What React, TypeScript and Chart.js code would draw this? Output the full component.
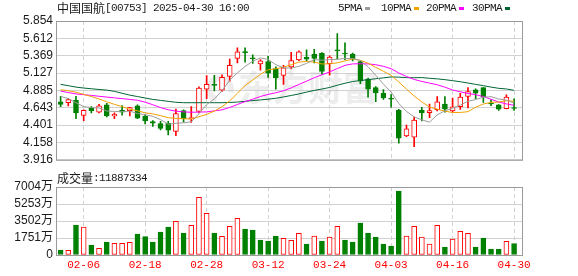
import React, { useEffect, useRef } from "react";
import { Chart, registerables } from "chart.js";

Chart.register(...registerables);

// ---------------- data ----------------
const dates = [
  "02-03", "02-04", "02-05", "02-06", "02-07", "02-10", "02-11", "02-12", "02-13", "02-14",
  "02-17", "02-18", "02-19", "02-20", "02-21", "02-24", "02-25", "02-26", "02-27", "02-28",
  "03-03", "03-04", "03-05", "03-06", "03-07", "03-10", "03-11", "03-12", "03-13", "03-14",
  "03-17", "03-18", "03-19", "03-20", "03-21", "03-24", "03-25", "03-26", "03-27", "03-28",
  "03-31", "04-01", "04-02", "04-03", "04-07", "04-08", "04-09", "04-10", "04-11", "04-14",
  "04-15", "04-16", "04-17", "04-22", "04-23", "04-24", "04-25", "04-28", "04-29", "04-30",
];

const openPrices = [
  4.726, 4.713, 4.748, 4.536, 4.637, 4.580, 4.682, 4.527, 4.606, 4.602,
  4.669, 4.527, 4.451, 4.421, 4.425, 4.314, 4.602, 4.490, 4.590, 4.902,
  4.969, 4.889, 5.080, 5.332, 5.425, 5.336, 5.253, 5.287, 5.190, 5.093,
  5.213, 5.310, 5.346, 5.389, 5.403, 5.257, 5.449, 5.407, 5.393, 5.287,
  5.044, 4.925, 4.845, 4.772, 4.606, 4.248, 4.231, 4.606, 4.573, 4.616,
  4.695, 4.600, 4.659, 4.801, 4.894, 4.925, 4.706, 4.682, 4.629, 4.642,
];
const highPrices = [
  4.801, 4.770, 4.801, 4.615, 4.659, 4.690, 4.703, 4.571, 4.673, 4.650,
  4.682, 4.536, 4.464, 4.454, 4.454, 4.624, 4.615, 4.659, 4.934, 5.093,
  5.097, 5.101, 5.323, 5.478, 5.478, 5.380, 5.314, 5.359, 5.213, 5.234,
  5.416, 5.438, 5.452, 5.460, 5.412, 5.367, 5.677, 5.548, 5.407, 5.300,
  5.058, 4.938, 4.898, 4.825, 4.620, 4.401, 4.513, 4.650, 4.695, 4.799,
  4.799, 4.779, 4.845, 4.925, 4.908, 4.925, 4.752, 4.686, 4.823, 4.766,
];
const lowPrices = [
  4.659, 4.669, 4.491, 4.461, 4.571, 4.571, 4.513, 4.491, 4.540, 4.527,
  4.491, 4.416, 4.381, 4.332, 4.265, 4.252, 4.443, 4.438, 4.570, 4.770,
  4.878, 4.872, 5.014, 5.270, 5.279, 5.261, 5.168, 5.067, 4.902, 4.969,
  5.186, 5.301, 5.296, 5.270, 5.111, 5.097, 5.323, 5.314, 5.296, 4.978,
  4.792, 4.726, 4.759, 4.650, 4.148, 4.239, 4.098, 4.460, 4.504, 4.599,
  4.580, 4.580, 4.620, 4.642, 4.770, 4.716, 4.673, 4.606, 4.626, 4.606,
];
const closePrices = [
  4.690, 4.756, 4.571, 4.606, 4.603, 4.669, 4.531, 4.553, 4.580, 4.646,
  4.496, 4.460, 4.427, 4.354, 4.328, 4.563, 4.491, 4.500, 4.916, 4.969,
  4.955, 5.067, 5.234, 5.425, 5.412, 5.327, 5.297, 5.124, 5.058, 5.200,
  5.300, 5.425, 5.320, 5.330, 5.151, 5.350, 5.436, 5.393, 5.323, 5.014,
  4.902, 4.849, 4.779, 4.762, 4.217, 4.350, 4.470, 4.571, 4.602, 4.726,
  4.624, 4.655, 4.792, 4.868, 4.845, 4.792, 4.695, 4.624, 4.792, 4.632,
];
const prevCloseBefore = 4.74;

// volume in 万 shares
const volumeWan = [
  515, 480, 3090, 2884, 1030, 690, 1339, 1202, 1202, 1305,
  2163, 1888, 1339, 2369, 2884, 3468, 2266, 3056, 5940, 4292,
  2266, 1922, 2953, 3777, 2678, 2575, 1545, 1442, 1957, 1717,
  1510, 2232, 1133, 1957, 1442, 1854, 2953, 1545, 1339, 3296,
  2266, 1854, 1133, 927, 6592, 1957, 2953, 1854, 1133, 3056,
  824, 1648, 2438, 2232, 824, 1751, 618, 618, 1408, 1188.7,
];

const ma5 = [
  4.801, 4.770, 4.713, 4.659, 4.645, 4.641, 4.596, 4.592, 4.587, 4.596,
  4.561, 4.547, 4.522, 4.477, 4.413, 4.426, 4.433, 4.447, 4.560, 4.688,
  4.766, 4.881, 5.028, 5.130, 5.219, 5.293, 5.339, 5.317, 5.244, 5.201,
  5.196, 5.221, 5.262, 5.316, 5.306, 5.316, 5.318, 5.331, 5.331, 5.303,
  5.214, 5.096, 4.973, 4.861, 4.702, 4.591, 4.516, 4.474, 4.442, 4.544,
  4.599, 4.636, 4.680, 4.733, 4.757, 4.790, 4.798, 4.765, 4.750, 4.707,
];
const ma10 = [
  4.894, 4.881, 4.860, 4.830, 4.800, 4.765, 4.726, 4.690, 4.659, 4.621,
  4.601, 4.572, 4.557, 4.532, 4.504, 4.494, 4.490, 4.485, 4.518, 4.550,
  4.596, 4.657, 4.738, 4.845, 4.953, 5.030, 5.110, 5.173, 5.187, 5.210,
  5.244, 5.280, 5.290, 5.280, 5.254, 5.256, 5.270, 5.297, 5.323, 5.305,
  5.265, 5.207, 5.152, 5.096, 5.003, 4.903, 4.806, 4.724, 4.652, 4.623,
  4.595, 4.576, 4.577, 4.588, 4.650, 4.695, 4.717, 4.722, 4.741, 4.732,
];
const ma20 = [
  4.875, 4.855, 4.836, 4.825, 4.815, 4.803, 4.792, 4.781, 4.770, 4.759,
  4.748, 4.720, 4.685, 4.645, 4.615, 4.595, 4.585, 4.580, 4.582, 4.585,
  4.599, 4.614, 4.647, 4.688, 4.729, 4.762, 4.800, 4.829, 4.852, 4.880,
  4.920, 4.969, 5.014, 5.062, 5.103, 5.143, 5.190, 5.235, 5.255, 5.257,
  5.255, 5.244, 5.221, 5.188, 5.128, 5.079, 5.038, 5.010, 4.987, 4.964,
  4.930, 4.891, 4.865, 4.842, 4.826, 4.799, 4.761, 4.723, 4.696, 4.677,
];
const ma30 = [
  4.969, 4.951, 4.931, 4.918, 4.908, 4.898, 4.889, 4.872, 4.845, 4.819,
  4.799, 4.779, 4.759, 4.746, 4.732, 4.719, 4.713, 4.713, 4.713, 4.713,
  4.713, 4.713, 4.717, 4.722, 4.732, 4.743, 4.752, 4.762, 4.775, 4.794,
  4.814, 4.836, 4.861, 4.885, 4.904, 4.926, 4.957, 4.985, 5.009, 5.022,
  5.035, 5.048, 5.060, 5.073, 5.070, 5.063, 5.062, 5.064, 5.054, 5.046,
  5.035, 5.021, 5.006, 4.988, 4.969, 4.951, 4.931, 4.914, 4.905, 4.886,
];

const priceTickLabels = ["3.916", "4.158", "4.401", "4.643", "4.885", "5.127", "5.369", "5.612", "5.854"];
const volumeTicks = [0, 1751, 3502, 5253, 7004];
const dateTickLabels = ["02-06", "02-18", "02-28", "03-12", "03-24", "04-03", "04-16", "04-30"];
const legendLabels = ["5PMA", "10PMA", "20PMA", "30PMA"];
const titleText = "中国国航[00753] 2025-04-30 16:00";
const volumeTitle = "成交量:11887334";
const watermarkText = "东方财富";

// ---------------- styles ----------------
const UP = "#ff0000";
const DOWN = "#008000";
const MA_COLORS = ["#9c9c9c", "#f2a100", "#ff00ff", "#006633"];
const GRID = "#d2d2d2";
const FRAME = "#9a9a9a";
const TEXT = "#1a1a1a";
const SANS = '"Liberation Sans", "Noto Sans CJK SC", sans-serif';
const X_MIN = -0.6;
const X_MAX = 60.03;
const LEGEND_X = [338, 381, 426, 472];

const isCJK = (ch: string) => /[\u3000-\u9fff\uff00-\uffef]/.test(ch);

function drawMixed(ctx: CanvasRenderingContext2D, text: string, x: number, y: number, color: string) {
  const runs: { t: string; c: boolean }[] = [];
  for (const ch of text) {
    const c = isCJK(ch);
    if (runs.length && runs[runs.length - 1].c === c) runs[runs.length - 1].t += ch;
    else runs.push({ t: ch, c });
  }
  ctx.save();
  ctx.fillStyle = color;
  ctx.textBaseline = "middle";
  ctx.textAlign = "left";
  let cx = x;
  for (const r of runs) {
    if (r.c) {
      ctx.font = '12px "Noto Sans CJK SC"';
      (ctx as any).letterSpacing = "0px";
    } else {
      ctx.font = '11px "Liberation Mono"';
      (ctx as any).letterSpacing = "-0.6px";
    }
    ctx.fillText(r.t, cx, y + (r.c ? 0 : 0.5));
    cx += ctx.measureText(r.t).width;
  }
  ctx.restore();
  return cx;
}

const framePlugin = {
  id: "frame",
  afterDraw(chart: any) {
    const { ctx, chartArea: a } = chart;
    ctx.save();
    ctx.strokeStyle = FRAME;
    ctx.lineWidth = 1;
    ctx.strokeRect(a.left + 0.5, a.top + 0.5, a.right - a.left, a.bottom - a.top);
    ctx.restore();
  },
};

export default function App() {
  const priceRef = useRef<HTMLCanvasElement>(null);
  const volRef = useRef<HTMLCanvasElement>(null);

  useEffect(() => {
    const idx = dates.map((_, i) => i);
    const xTicks = dateTickLabels.map((l) => dates.indexOf(l));
    const candleUp = idx.map((i) => closePrices[i] >= openPrices[i]);
    const volUp = idx.map((i) => closePrices[i] >= (i === 0 ? prevCloseBefore : closePrices[i - 1]));

    const xGridScale = (showLabels: boolean, height: number) => ({
      type: "linear" as const,
      min: X_MIN,
      max: X_MAX,
      offset: false,
      bounds: "data" as const,
      afterBuildTicks: (s: any) => {
        s.ticks = xTicks.map((v) => ({ value: v }));
      },
      afterFit: (s: any) => {
        s.height = height;
      },
      ticks: {
        display: showLabels,
        autoSkip: false,
        maxRotation: 0,
        minRotation: 0,
        padding: 3,
        color: UP,
        font: { family: '"Liberation Mono", monospace', size: 11 },
        callback: (v: any) => dates[Math.round(Number(v))] ?? "",
      },
      grid: { color: GRID, lineWidth: 1, drawTicks: false, offset: false },
      border: { display: false, dash: [4, 3] },
    });

    const sidePlugin = {
      id: "priceDecor",
      beforeDatasetsDraw(chart: any) {
        const { ctx } = chart;
        ctx.save();
        ctx.fillStyle = "rgba(195,195,200,0.3)";
        ctx.font = 'bold 35px "Noto Sans CJK SC"';
        ctx.textBaseline = "middle";
        ctx.textAlign = "left";
        ctx.fillText(watermarkText, 238, 88);
        ctx.strokeStyle = "rgba(195,195,200,0.3)";
        ctx.lineWidth = 6;
        ctx.beginPath();
        ctx.arc(220, 89, 11, Math.PI * 0.6, Math.PI * 2.1);
        ctx.stroke();
        ctx.restore();
      },
      afterDraw(chart: any) {
        const { ctx } = chart;
        drawMixed(ctx, titleText, 57, 8, TEXT);
        legendLabels.forEach((l, k) => {
          const end = drawMixed(ctx, l, LEGEND_X[k], 8, TEXT);
          ctx.save();
          ctx.fillStyle = MA_COLORS[k];
          ctx.fillRect(Math.round(end + 3), 7, 5, 3);
          ctx.restore();
        });
      },
    };

    const priceChart = new Chart(priceRef.current as HTMLCanvasElement, {
      type: "bar",
      data: {
        datasets: [
          ...[ma5, ma10, ma20, ma30].map((arr, k) => ({
            type: "line" as const,
            data: idx.map((i) => ({ x: i, y: arr[i] })),
            borderColor: MA_COLORS[k],
            borderWidth: 1,
            pointRadius: 0,
            fill: false,
            tension: 0,
            order: 0,
          })),
          {
            type: "bar" as const,
            data: idx.map((i) => ({ x: i, y: [openPrices[i], closePrices[i]] })),
            backgroundColor: idx.map((i) => (candleUp[i] ? "#ffffff" : DOWN)),
            borderColor: idx.map((i) => (candleUp[i] ? UP : DOWN)),
            borderWidth: 1,
            borderSkipped: false,
            barThickness: 5,
            maxBarThickness: 5,
            minBarLength: 1,
            grouped: false,
            order: 1,
          },
          {
            type: "bar" as const,
            data: idx.map((i) => ({ x: i, y: [lowPrices[i], highPrices[i]] })),
            backgroundColor: idx.map((i) => (candleUp[i] ? UP : DOWN)),
            borderWidth: 0,
            barThickness: 1,
            maxBarThickness: 1,
            grouped: false,
            order: 2,
          },
        ] as any,
      },
      options: {
        responsive: false,
        animation: false,
        devicePixelRatio: 1,
        events: [],
        layout: { padding: { left: 0, right: 56, top: 21, bottom: 5 } },
        plugins: { legend: { display: false }, tooltip: { enabled: false } },
        scales: {
          x: xGridScale(false, 0) as any,
          y: {
            min: 3.916,
            max: 5.854,
            afterBuildTicks: (s: any) => {
              s.ticks = priceTickLabels.map((t) => ({ value: parseFloat(t) }));
            },
            afterFit: (s: any) => {
              s.width = 56;
            },
            ticks: {
              autoSkip: false,
              padding: 3,
              color: TEXT,
              font: { family: SANS, size: 12 },
              callback: (v: any) => Number(v).toFixed(3),
            },
            grid: { color: GRID, lineWidth: 1, drawTicks: false },
            border: { display: false },
          },
        },
      },
      plugins: [sidePlugin, framePlugin],
    });

    const volPlugin = {
      id: "volDecor",
      afterDraw(chart: any) {
        drawMixed(chart.ctx, volumeTitle, 57, 8, TEXT);
      },
    };

    const volChart = new Chart(volRef.current as HTMLCanvasElement, {
      type: "bar",
      data: {
        datasets: [
          {
            data: idx.map((i) => ({ x: i, y: volumeWan[i] })),
            backgroundColor: idx.map((i) => (volUp[i] ? "#ffffff" : DOWN)),
            borderColor: idx.map((i) => (volUp[i] ? UP : DOWN)),
            borderWidth: 1,
            borderSkipped: false,
            barThickness: 5,
            maxBarThickness: 5,
            grouped: false,
          } as any,
        ],
      },
      options: {
        responsive: false,
        animation: false,
        devicePixelRatio: 1,
        events: [],
        layout: { padding: { left: 0, right: 56, top: 17, bottom: 0 } },
        plugins: { legend: { display: false }, tooltip: { enabled: false } },
        scales: {
          x: xGridScale(true, 21) as any,
          y: {
            min: 0,
            max: 7004,
            afterBuildTicks: (s: any) => {
              s.ticks = volumeTicks.map((v) => ({ value: v }));
            },
            afterFit: (s: any) => {
              s.width = 56;
            },
            ticks: {
              autoSkip: false,
              padding: 3,
              color: TEXT,
              font: { family: SANS, size: 12 },
              callback: (v: any) => (Number(v) === 0 ? "0" : `${v}万`),
            },
            grid: { color: GRID, lineWidth: 1, drawTicks: false },
            border: { display: false },
          },
        },
      },
      plugins: [volPlugin, framePlugin],
    });

    return () => {
      priceChart.destroy();
      volChart.destroy();
    };
  }, []);

  return (
    <div style={{ position: "fixed", left: 0, top: 0, width: 578, height: 276, background: "#ffffff" }}>
      <canvas ref={priceRef} width={578} height={170} style={{ position: "absolute", left: 0, top: 0, width: 578, height: 170 }} />
      <canvas ref={volRef} width={578} height={106} style={{ position: "absolute", left: 0, top: 170, width: 578, height: 106 }} />
    </div>
  );
}
